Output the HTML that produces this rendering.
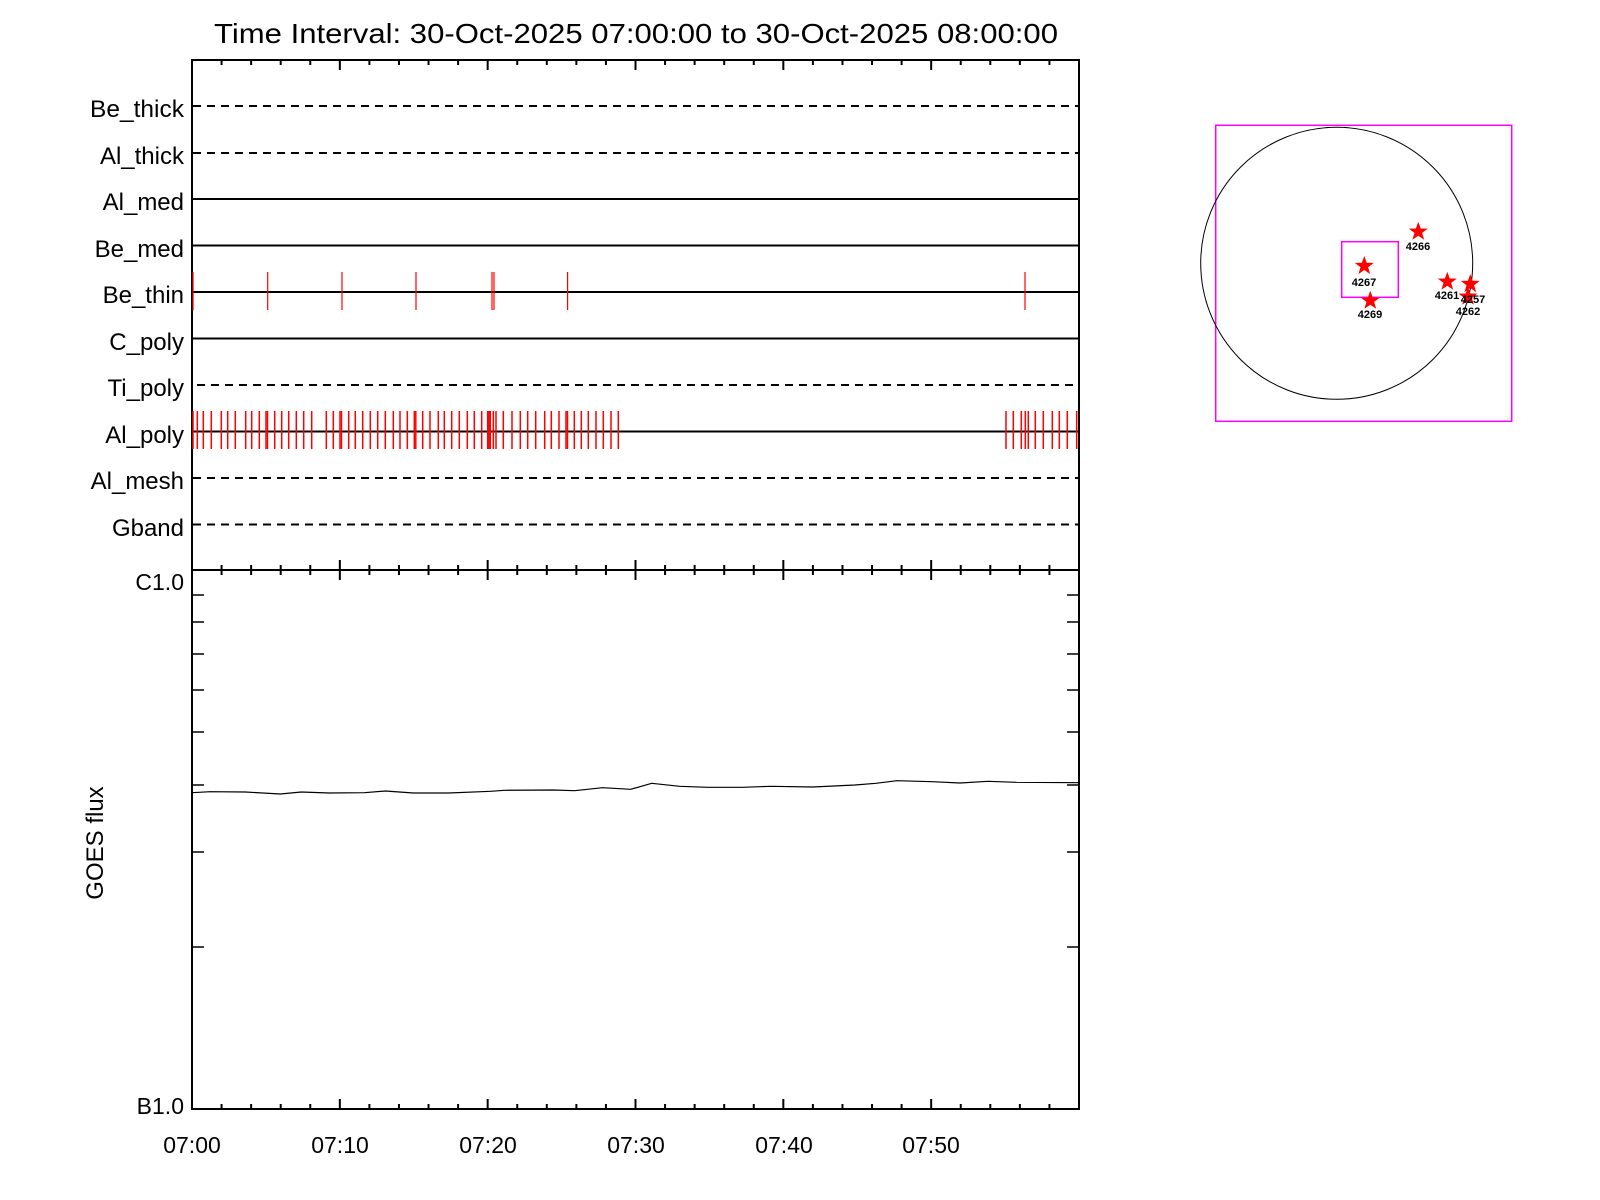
<!DOCTYPE html>
<html><head><meta charset="utf-8"><style>
html,body{margin:0;padding:0;background:#fff;}
svg{display:block;font-family:"Liberation Sans",Arial,sans-serif;}
</style></head><body>
<svg width="1600" height="1200" viewBox="0 0 1600 1200" xmlns="http://www.w3.org/2000/svg">
<rect width="1600" height="1200" fill="#fff"/>
<text x="636" y="43" font-size="28" text-anchor="middle" textLength="844" lengthAdjust="spacingAndGlyphs">Time Interval: 30-Oct-2025 07:00:00 to 30-Oct-2025 08:00:00</text>
<rect x="192" y="60" width="887" height="1049" fill="none" stroke="#000" stroke-width="2"/>
<line x1="192" y1="570" x2="1079" y2="570" stroke="#000" stroke-width="2"/>
<g stroke="#000" stroke-width="2" id="ticks"></g>
<g stroke="#000" stroke-width="2">
<line x1="193" y1="106" x2="1078" y2="106" stroke-dasharray="8,6"/>
<line x1="193" y1="153" x2="1078" y2="153" stroke-dasharray="8,6"/>
<line x1="193" y1="199" x2="1078" y2="199"/>
<line x1="193" y1="245.5" x2="1078" y2="245.5"/>
<line x1="193" y1="292" x2="1078" y2="292"/>
<line x1="193" y1="338.5" x2="1078" y2="338.5"/>
<line x1="197" y1="385" x2="1075" y2="385" stroke-dasharray="8,6"/>
<line x1="193" y1="431.5" x2="1078" y2="431.5"/>
<line x1="193" y1="478" x2="1078" y2="478" stroke-dasharray="8,6"/>
<line x1="193" y1="524.5" x2="1078" y2="524.5" stroke-dasharray="8,6"/>
</g>
<g font-size="24" text-anchor="end">
<text x="184" y="117" textLength="94" lengthAdjust="spacingAndGlyphs">Be_thick</text>
<text x="184" y="164">Al_thick</text>
<text x="184" y="210">Al_med</text>
<text x="184" y="257">Be_med</text>
<text x="184" y="303">Be_thin</text>
<text x="184" y="350">C_poly</text>
<text x="184" y="396">Ti_poly</text>
<text x="184" y="443">Al_poly</text>
<text x="184" y="489">Al_mesh</text>
<text x="184" y="536">Gband</text>
</g>
<g stroke="#f00" stroke-width="1.2">
<line x1="193" y1="272" x2="193" y2="310"/><line x1="267.7" y1="272" x2="267.7" y2="310"/><line x1="342" y1="272" x2="342" y2="310"/><line x1="416" y1="272" x2="416" y2="310"/><line x1="492" y1="272" x2="492" y2="310"/><line x1="494" y1="272" x2="494" y2="310"/><line x1="567.6" y1="272" x2="567.6" y2="310"/><line x1="1025" y1="272" x2="1025" y2="310"/>
</g>
<g stroke="#f00" stroke-width="1.5" id="alpoly"></g>
<g font-size="23">
<text x="184" y="590" text-anchor="end">C1.0</text>
<text x="184" y="1114" text-anchor="end">B1.0</text>
<text x="192" y="1153" text-anchor="middle">07:00</text>
<text x="340" y="1153" text-anchor="middle">07:10</text>
<text x="488" y="1153" text-anchor="middle">07:20</text>
<text x="636" y="1153" text-anchor="middle">07:30</text>
<text x="784" y="1153" text-anchor="middle">07:40</text>
<text x="931" y="1153" text-anchor="middle">07:50</text>
<text transform="translate(103,843) rotate(-90)" text-anchor="middle" font-size="24">GOES flux</text>
</g>
<polyline fill="none" stroke="#000" stroke-width="1.2" points="192,792.7 210.2,791.7 245.3,792 280.3,794 301.3,792 329.4,793 364.4,792.7 385.4,791 413.4,793 448.5,793 490.5,791.3 504.5,790.3 553.6,790 574.6,790.7 602.6,787.7 630.7,789.3 651.7,783.3 679.7,786.3 707.8,787.3 742.8,787.3 770.8,786.3 812.9,787 854.9,785 875.9,783.3 896.9,780.7 932,781.7 960,783 988.1,781.3 1016.1,782.3 1079,782.7"/>
<rect x="1215.7" y="125.3" width="296" height="296" fill="none" stroke="#f0f" stroke-width="1.5"/>
<circle cx="1336.7" cy="263.3" r="136" fill="none" stroke="#000" stroke-width="1"/>
<rect x="1341.7" y="241.7" width="56.6" height="55.6" fill="none" stroke="#f0f" stroke-width="1.5"/>
<g id="stars" fill="#f00"></g>
<g font-size="11" font-weight="bold" text-anchor="middle">
<text x="1418" y="250">4266</text><text x="1364" y="286">4267</text><text x="1370" y="318">4269</text><text x="1447" y="299">4261</text><text x="1473" y="303">4257</text><text x="1468" y="315">4262</text>
</g>
</svg>
<script>
var NS="http://www.w3.org/2000/svg";
function L(g,x1,y1,x2,y2,w){var l=document.createElementNS(NS,"line");l.setAttribute("x1",x1);l.setAttribute("y1",y1);l.setAttribute("x2",x2);l.setAttribute("y2",y2);if(w)l.setAttribute("stroke-width",w);g.appendChild(l);}
var t=document.getElementById("ticks");
for(var m=0;m<=60;m+=2){var x=192+m*887/60;var maj=(m%10==0);var h=maj?10:5;
L(t,x,60,x,60+h);L(t,x,570-h,x,570+h);L(t,x,1109-h,x,1109);}
var ys=[595,622,654,690,732,785,852,947];
ys.forEach(function(y){L(t,192,y,204,y,1.5);L(t,1067,y,1079,y,1.5);});
var a=document.getElementById("alpoly");
[193,197.3,203.3,211.3,221.3,227.7,235.3,245.7,251.7,259.3,266,267.5,274.7,281.7,288.7,296.3,303.7,311.7,326.3,333.3,340,341.5,348.7,355.3,362.7,370.3,377.7,385.3,393.3,400,407.3,414.3,415.8,422.7,430,438.3,444.3,451.7,459.3,467.3,474.3,481.7,487.7,489,490.3,493.3,496,503.3,512,520.3,527.7,535.7,544.7,551.3,559,566,567.5,574.3,581.3,588.3,596,603.3,611,618.3,1006,1013.3,1021.3,1025.3,1028.3,1035.3,1043.3,1052.3,1059.3,1067.3,1076.7].forEach(function(x){L(a,x,411,x,449);});
var s=document.getElementById("stars");
[[1418.3,231.7],[1364.3,266],[1370.3,300.7],[1447.3,281.7],[1470.3,284],[1468,296.7]].forEach(function(c){
var p=[];for(var i=0;i<10;i++){var r=i%2?4:10;var an=-Math.PI/2+i*Math.PI/5;p.push((c[0]+r*Math.cos(an)).toFixed(1)+","+(c[1]+r*Math.sin(an)).toFixed(1));}
var pg=document.createElementNS(NS,"polygon");pg.setAttribute("points",p.join(" "));s.appendChild(pg);});
</script>
</body></html>
